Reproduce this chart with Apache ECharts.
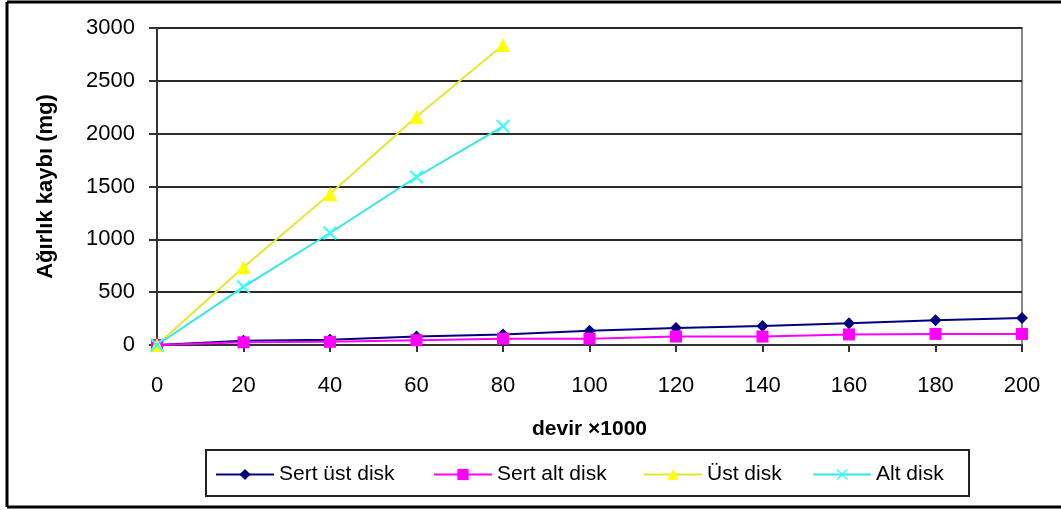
<!DOCTYPE html>
<html>
<head>
<meta charset="utf-8">
<script src="https://cdn.jsdelivr.net/npm/echarts@6/dist/echarts.min.js"></script>
<style>html,body{margin:0;padding:0;background:#fff;}#c{width:1061px;height:510px;}</style>
</head>
<body>
<div id="c"></div>
<script>
const xValues = [0, 20, 40, 60, 80, 100, 120, 140, 160, 180, 200];
const sertUstDisk = [0, 40, 50, 80, 100, 135, 160, 180, 205, 235, 255];
const sertAltDisk = [0, 25, 30, 45, 60, 60, 80, 80, 100, 105, 105];
const ustDisk = [0, 735, 1430, 2160, 2840];
const altDisk = [0, 550, 1060, 1590, 2070];
const seriesNames = ['Sert üst disk', 'Sert alt disk', 'Üst disk', 'Alt disk'];

function pairs(vals) { return vals.map((v, i) => [xValues[i], v]); }

const font = 'Liberation Sans, Arial, sans-serif';
const crossPath = 'path://M0,1 L1,0 L5,4 L9,0 L10,1 L6,5 L10,9 L9,10 L5,6 L1,10 L0,9 L4,5 Z';
const legendLefts = [215, 433, 643, 812];

const chart = echarts.init(document.getElementById('c'), null, {renderer: 'canvas'});
chart.setOption({
  animation: false,
  backgroundColor: '#fff',
  graphic: [
    {type: 'line', shape: {x1: 7, y1: 2, x2: 1061, y2: 2}, style: {stroke: '#000', lineWidth: 3}},
    {type: 'line', shape: {x1: 7, y1: 507, x2: 1061, y2: 507}, style: {stroke: '#000', lineWidth: 3}},
    {type: 'line', shape: {x1: 7, y1: 2, x2: 7, y2: 507}, style: {stroke: '#000', lineWidth: 3}},
    {type: 'rect', shape: {x: 206, y: 450, width: 763, height: 46}, style: {fill: null, stroke: '#222', lineWidth: 2}}
  ],
  grid: {left: 157, right: 39, top: 28, bottom: 165, show: true, borderColor: '#888', borderWidth: 2},
  legend: seriesNames.map((n, i) => ({
    data: [n],
    left: legendLefts[i], top: 464, padding: 0,
    itemWidth: 58, itemHeight: 14,
    textStyle: {fontFamily: font, fontSize: 21, color: '#000'}
  })),
  xAxis: {
    type: 'value', min: 0, max: 200, interval: 20,
    name: 'devir ×1000', nameLocation: 'middle', nameGap: 74,
    nameTextStyle: {fontFamily: font, fontSize: 21, fontWeight: 'bold', color: '#000'},
    axisLine: {show: true, lineStyle: {color: '#333', width: 2}},
    axisTick: {show: true, length: 7, lineStyle: {color: '#333', width: 2}},
    axisLabel: {fontFamily: font, fontSize: 22, color: '#000', margin: 30},
    splitLine: {show: false}
  },
  yAxis: {
    type: 'value', min: 0, max: 3000, interval: 500,
    name: 'Ağırlık kaybı (mg)', nameLocation: 'middle', nameGap: 100,
    nameTextStyle: {fontFamily: font, fontSize: 22, fontWeight: 'bold', color: '#000'},
    axisLine: {show: true, lineStyle: {color: '#333', width: 2}},
    axisTick: {show: true, length: 8, lineStyle: {color: '#333', width: 2}},
    axisLabel: {fontFamily: font, fontSize: 22, color: '#000', margin: 22, formatter: v => String(v)},
    splitLine: {show: true, lineStyle: {color: '#2a2a2a', width: 2}}
  },
  series: [
    {name: seriesNames[0], type: 'line', data: pairs(sertUstDisk), symbol: 'diamond', symbolSize: 12,
     lineStyle: {color: '#000080', width: 2}, itemStyle: {color: '#000080'}},
    {name: seriesNames[1], type: 'line', data: pairs(sertAltDisk), symbol: 'rect', symbolSize: 12,
     lineStyle: {color: '#FF00FF', width: 2}, itemStyle: {color: '#FF00FF'}},
    {name: seriesNames[2], type: 'line', data: pairs(ustDisk), symbol: 'triangle', symbolSize: 14,
     lineStyle: {color: '#E6E62E', width: 2}, itemStyle: {color: '#FFFF00'}},
    {name: seriesNames[3], type: 'line', data: pairs(altDisk), symbol: crossPath, symbolSize: 14,
     lineStyle: {color: '#33E6E6', width: 2}, itemStyle: {color: '#33FFFF'}}
  ]
});
</script>
</body>
</html>
